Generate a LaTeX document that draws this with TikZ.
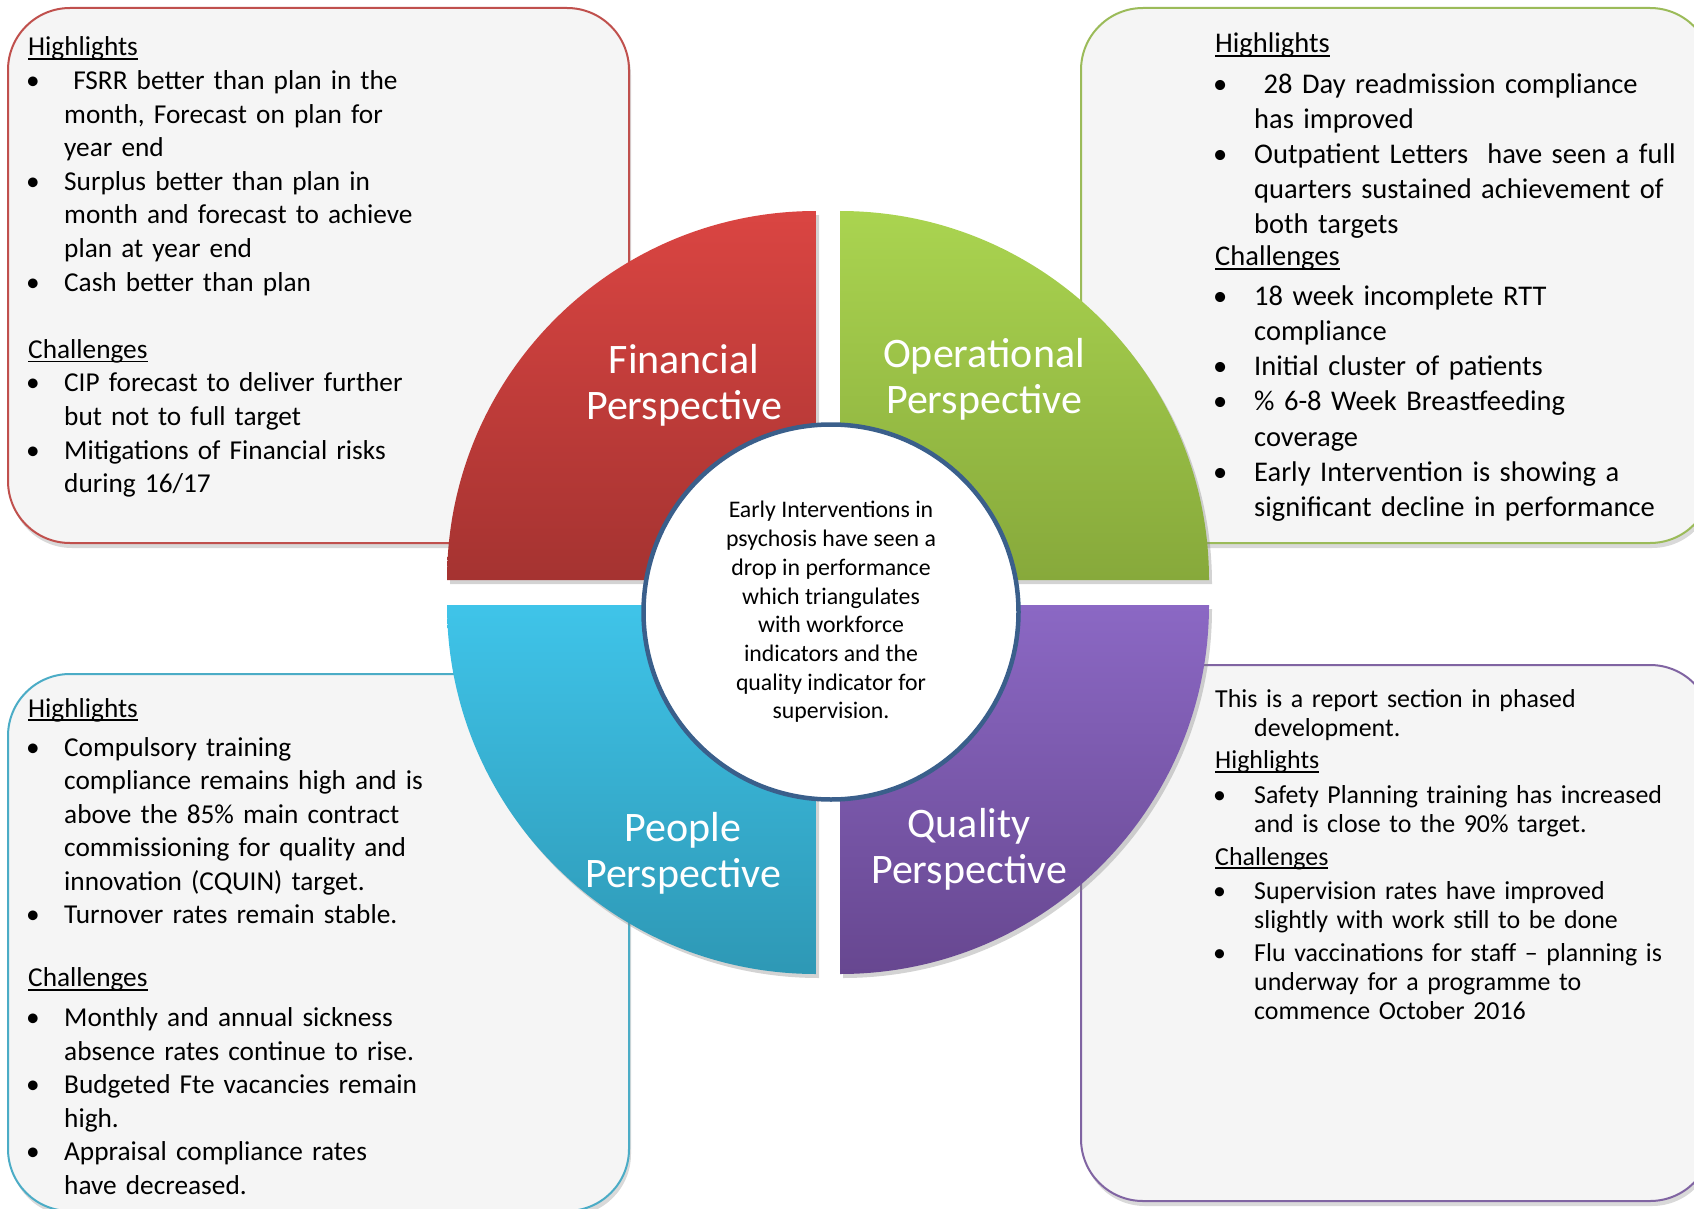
\documentclass[tikz,border=0pt]{standalone}
\usepackage{fontspec}
\setmainfont{Carlito}
\usetikzlibrary{shadows}
\definecolor{finred}{HTML}{C0504D}
\definecolor{opgreen}{HTML}{9BBB59}
\definecolor{pplblue}{HTML}{4BACC6}
\definecolor{qualpurple}{HTML}{8064A2}
\definecolor{boxfill}{HTML}{F5F5F5}
\definecolor{hubline}{HTML}{3A5F8B}
\newlength{\bulind}
\newcommand{\itm}{\leavevmode\makebox[\bulind][l]{\hspace{-2pt}\textbullet}}
\newcommand{\ind}{\leavevmode\hspace*{\bulind}}
\newsavebox{\hdbox}
\newcommand{\hd}[1]{\leavevmode\sbox{\hdbox}{#1}\rlap{\rule[-4pt]{\wd\hdbox}{1.8pt}}\usebox{\hdbox}}

\begin{document}
\begin{tikzpicture}[x=1pt,y=1pt]
        \tikzset{infobox/.style={line width=2pt, fill=boxfill, rounded corners=62pt,
                drop shadow={shadow xshift=2pt, shadow yshift=-5pt, opacity=0.3}},
            boxtext/.style={anchor=base west, inner sep=0pt, text width=560pt, align=left},
            quad/.style={drop shadow={shadow xshift=3pt, shadow yshift=-4pt, opacity=0.35}},
            quadlabel/.style={text=white, align=center, inner sep=0pt,
                font=\fontsize{42}{46}\selectfont},
            hub/.style={circle, draw=hubline, line width=4.5pt, fill=white,
                minimum size=375pt, inner sep=0pt, align=center,
                font=\fontsize{23.8}{28.7}\selectfont}}
        \useasboundingbox (0,0) rectangle (1694,-1209);
        \clip (0,0) rectangle (1694,-1209);
        \draw[infobox, draw=finred] (8,-8) rectangle (629,-543);
        \draw[infobox, draw=opgreen] (1081,-8) rectangle (1712,-543);
        \draw[infobox, draw=pplblue] (8,-674) rectangle (629,-1211);
        \draw[infobox, draw=qualpurple] (1081,-665) rectangle (1712,-1201);
        \path[quad, top color={rgb,255:red,218;green,69;blue,66}, bottom color={rgb,255:red,165;green,51;blue,49}]
            (816,-580) -- (447,-580) arc[start angle=180, end angle=90, radius=369] -- cycle;
        \path[quad, top color={rgb,255:red,170;green,212;blue,80}, bottom color={rgb,255:red,135;green,169;blue,59}]
            (840,-211) arc[start angle=90, end angle=0, radius=369] -- (840,-580) -- cycle;
        \path[quad, top color={rgb,255:red,63;green,196;blue,233}, bottom color={rgb,255:red,46;green,152;blue,181}]
            (816,-605) -- (447,-605) arc[start angle=180, end angle=270, radius=369] -- cycle;
        \path[quad, top color={rgb,255:red,139;green,104;blue,196}, bottom color={rgb,255:red,103;green,71;blue,144}]
            (1209,-605) arc[start angle=0, end angle=-90, radius=369] -- (840,-605) -- cycle;
        \node[quadlabel] (fin) at (684,-385) {Financial\\Perspective};
        \node[quadlabel] (ops) at (984,-379) {Operational\\Perspective};
        \node[quadlabel] (ppl) at (683,-853) {People\\Perspective};
        \node[quadlabel] (qual) at (969,-849) {Quality\\Perspective};
        \node[hub] (hub) at (831,-612) {Early Interventions in\\psychosis have seen a\\drop in performance\\which triangulates\\with workforce\\indicators and the\\quality indicator for\\supervision.};
        \node[boxtext, font=\fontsize{27.3}{33.6}\selectfont] (fintext) at (28,-56)
            {\setlength{\bulind}{36pt}\hd{Highlights}\\
            \itm\ FSRR better than plan in the\\
            \ind month, Forecast on plan for\\
            \ind year end\\
            \itm Surplus better than plan in\\
            \ind month and forecast to achieve\\
            \ind plan at year end\\
            \itm Cash better than plan\\[33.6pt]
            \hd{Challenges}\\
            \itm CIP forecast to deliver further\\
            \ind but not to full target\\
            \itm Mitigations of Financial risks\\
            \ind during 16/17};
        \node[boxtext, font=\fontsize{28.5}{35.1}\selectfont] (opstext) at (1215,-53)
            {\setlength{\bulind}{39pt}\hd{Highlights}\\[5pt]
            \itm\ 28 Day readmission compliance\\
            \ind has improved\\
            \itm Outpatient Letters\ \ have seen a full\\
            \ind quarters sustained achievement of\\
            \ind both targets\\[-3pt]
            \hd{Challenges}\\[5pt]
            \itm 18 week incomplete RTT\\
            \ind compliance\\
            \itm Initial cluster of patients\\
            \itm \% 6-8 Week Breastfeeding\\
            \ind coverage\\
            \itm Early Intervention is showing a\\
            \ind significant decline in performance};
        \node[boxtext, font=\fontsize{27.3}{33.5}\selectfont] (ppltext) at (28,-717)
            {\setlength{\bulind}{36pt}\hd{Highlights}\\[5.5pt]
            \itm Compulsory training\\
            \ind compliance remains high and is\\
            \ind above the 85\% main contract\\
            \ind commissioning for quality and\\
            \ind innovation (CQUIN) target.\\
            \itm Turnover rates remain stable.\\[29.5pt]
            \hd{Challenges}\\[6.5pt]
            \itm Monthly and annual sickness\\
            \ind absence rates continue to rise.\\
            \itm Budgeted Fte vacancies remain\\
            \ind high.\\
            \itm Appraisal compliance rates\\
            \ind have decreased.};
        \node[boxtext, font=\fontsize{25.9}{29}\selectfont] (qualtext) at (1215,-707.5)
            {\setlength{\bulind}{39pt}This is a report section in phased\\
            \ind development.\\[3pt]
            \hd{Highlights}\\[6pt]
            \itm Safety Planning training has increased\\
            \ind and is close to the 90\% target.\\[3.5pt]
            \hd{Challenges}\\[5pt]
            \itm Supervision rates have improved\\
            \ind slightly with work still to be done\\[4pt]
            \itm Flu vaccinations for staff – planning is\\
            \ind underway for a programme to\\
            \ind commence October 2016};
\end{tikzpicture}
\end{document}
